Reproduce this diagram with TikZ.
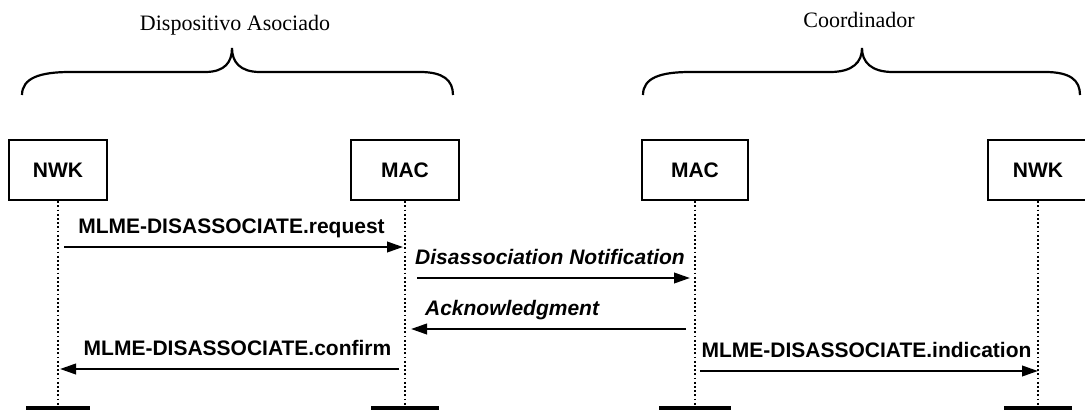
\documentclass[tikz,border=0pt]{standalone}
\usepackage{fontspec}
\setmainfont{Liberation Serif}
\newfontfamily\msgfont{Liberation Sans}
\usetikzlibrary{arrows.meta}
\begin{document}
\begin{tikzpicture}[x=1pt, y=-1pt,
    layer/.style={draw, line width=2.4pt, minimum width=100pt, minimum height=60pt,
      font=\msgfont\bfseries\fontsize{21}{24}\selectfont},
    life/.style={line width=2pt, dash pattern=on 1.8pt off 2.4pt},
    foot/.style={line width=3.2pt},
    msg/.style={-{Triangle[length=16pt,width=10.5pt]}, line width=2.3pt,
      shorten <=6pt, shorten >=2pt},
    lbl/.style={font=\msgfont\bfseries\fontsize{21}{24}\selectfont,
      anchor=base, yshift=13.5pt, inner sep=0pt},
    brace/.style={line width=2.2pt},
    side/.style={font=\fontsize{22}{26}\selectfont, anchor=base, inner sep=0pt}]
    \useasboundingbox (0,0) rectangle (1085,410);
    % grupos
    \node[side] (devA) at (235, 30) {Dispositivo Asociado};
    \node[side] (coord) at (859, 27) {Coordinador};
    \draw[brace] (22,95) .. controls (22,78) and (40,72) .. (70,72) -- (205,72)
      .. controls (225,72) and (232,62) .. (232,48)
      .. controls (232,62) and (240,72) .. (260,72) -- (420,72)
      .. controls (443,72) and (453,80) .. (453,95);
    \draw[brace] (643,95) .. controls (643,78) and (660,72) .. (690,72) -- (830,72)
      .. controls (853,72) and (862,62) .. (862,48)
      .. controls (862,62) and (871,72) .. (893,72) -- (1045,72)
      .. controls (1070,72) and (1080,80) .. (1080,95);
    % capas
    \node[layer, minimum width=98pt] (nwkA) at (58, 170) {NWK};
    \node[layer, minimum width=108pt] (macA) at (405, 170) {MAC};
    \node[layer, minimum width=106pt] (macB) at (695, 170) {MAC};
    \node[layer] (nwkB) at (1038, 170) {NWK};
    \coordinate (nwkA-end) at (nwkA |- 0,408);
    \coordinate (macA-end) at (macA |- 0,408);
    \coordinate (macB-end) at (macB |- 0,408);
    \coordinate (nwkB-end) at (nwkB |- 0,408);
    \draw[life] (nwkA.south) -- (nwkA-end);
    \draw[life] (macA.south) -- (macA-end);
    \draw[life] (macB.south) -- (macB-end);
    \draw[life] (nwkB.south) -- (nwkB-end);
    \draw[foot] ([xshift=-32pt]nwkA-end) -- ([xshift=32pt]nwkA-end);
    \draw[foot] ([xshift=-34pt]macA-end) -- ([xshift=34pt]macA-end);
    \draw[foot] ([xshift=-36pt]macB-end) -- ([xshift=36pt]macB-end);
    \draw[foot] ([xshift=-34pt]nwkB-end) -- ([xshift=34pt]nwkB-end);
    % mensajes
    \draw[msg] (nwkA |- 0,247) -- node[lbl, midway] {MLME-DISASSOCIATE.request} (macA |- 0,247);
    \draw[msg, shorten <=12pt, shorten >=5pt] (macA |- 0,278)
      -- node[lbl, midway] {\itshape Disassociation Notification} (macB |- 0,278);
    \draw[msg, shorten <=9pt, shorten >=6pt] (macB |- 0,329)
      -- node[lbl, pos=1, anchor=base west, xshift=19pt] {\itshape Acknowledgment} (macA |- 0,329);
    \draw[msg] (macA |- 0,369) -- node[lbl, midway, xshift=6pt] {MLME-DISASSOCIATE.confirm} (nwkA |- 0,369);
    \draw[msg, shorten <=5pt, shorten >=0pt] (macB |- 0,371)
      -- node[lbl, midway] {MLME-DISASSOCIATE.indication} (nwkB |- 0,371);
\end{tikzpicture}
\end{document}
